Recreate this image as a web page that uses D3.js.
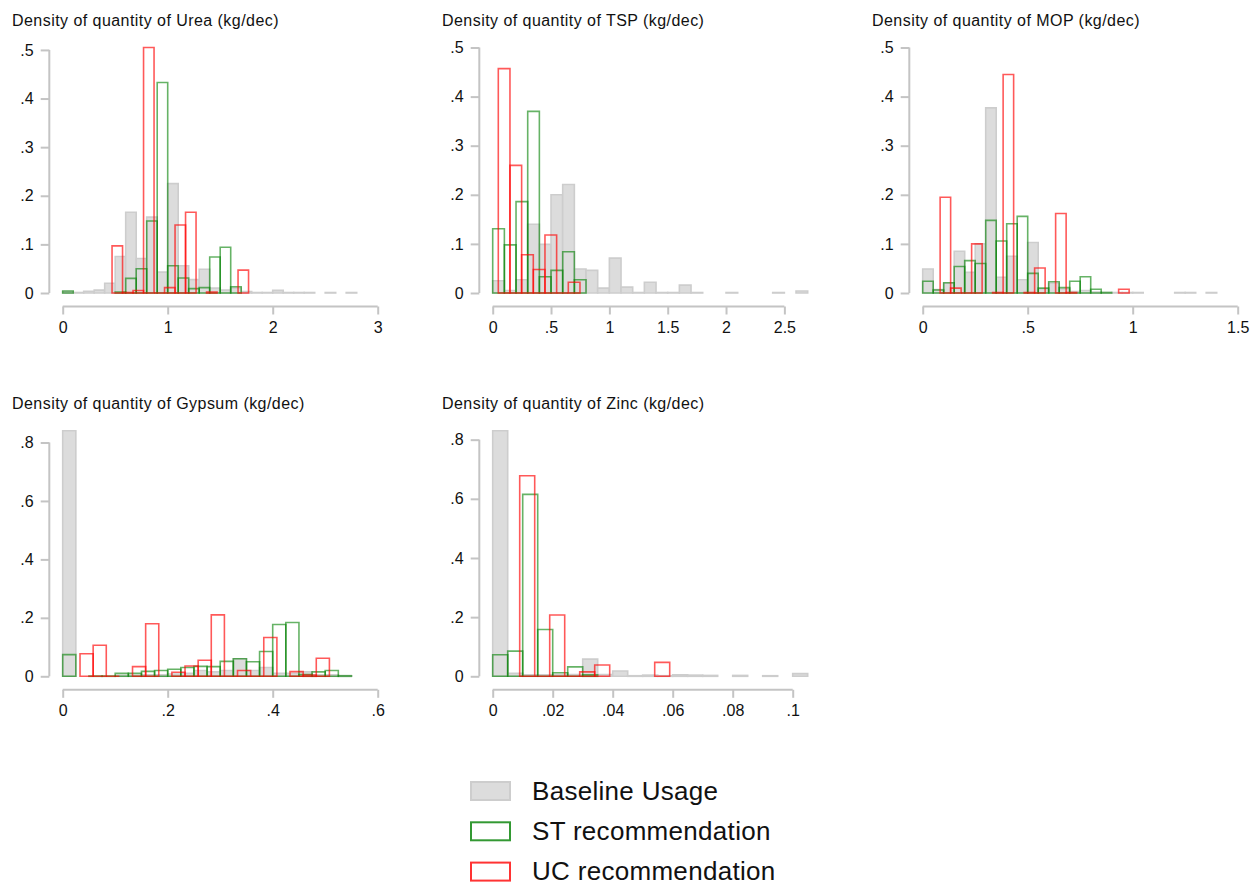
<!DOCTYPE html>
<html>
<head>
<meta charset="utf-8">
<script src="https://cdn.jsdelivr.net/npm/d3@7"></script>
<style>
  body { margin: 0; background: #fff; }
  text { font-family: "Liberation Sans", Arial, sans-serif; }
</style>
</head>
<body>
<div id="chart"></div>
<script>
// densities; null = no bar drawn, 0 = flat bar on the baseline
var titles = [
  "Density of quantity of Urea (kg/dec)",
  "Density of quantity of TSP (kg/dec)",
  "Density of quantity of MOP (kg/dec)",
  "Density of quantity of Gypsum (kg/dec)",
  "Density of quantity of Zinc (kg/dec)"
];
var seriesNames = ["Baseline Usage", "ST recommendation", "UC recommendation"];

// Urea: bins of 0.1
var ureaStart = [0, 0, 0.47];
var ureaWidth = 0.1;
var ureaBaseline = [0.003, 0.001, 0.0035, 0.006, 0.02, 0.075, 0.166, 0.071, 0.156, 0.043, 0.225, 0.056, 0.0275, 0.049, 0.01, 0.006, 0.01, 0.003, 0.001, 0.001, 0.0055, 0.001, 0.001, 0.001, null, 0.001, null, 0.001];
var ureaST = [0.004, null, null, null, null, 0.002, 0.03, 0.05, 0.148, 0.433, 0.056, 0.031, 0.009, 0.011, 0.074, 0.094, 0.013];
var ureaUC = [0.097, 0.001, 0.005, 0.505, 0, 0.011, 0.14, 0.166, null, 0.002, null, null, 0.047];

// TSP: bins of 0.1
var tspStart = [0, 0, 0.048];
var tspWidth = 0.1;
var tspBaseline = [0.025, 0.005, 0.027, 0.14, 0.099, 0.2, 0.221, 0.049, 0.046, 0.01, 0.071, 0.012, 0.001, 0.022, 0.001, 0.001, 0.016, 0.001, null, null, 0.001, null, null, null, 0.001, null, 0.004];
var tspST = [0.131, 0.098, 0.186, 0.37, 0.033, 0.046, 0.084, 0.027];
var tspUC = [0.457, 0.26, 0.078, 0.048, 0.118, 0, 0.022];

// MOP: bins of 0.05
var mopStart = [0, 0, 0.083];
var mopWidth = 0.05;
var mopBaseline = [0.049, 0.007, 0.02, 0.085, 0.042, 0.1, 0.377, 0.032, 0.075, 0.027, 0.103, 0.008, 0.02, 0.008, 0.003, 0.005, 0.002, 0.001, 0.001, 0.001, 0.001, null, null, null, 0.001, 0.001, null, 0.001];
var mopST = [0.024, 0.006, 0.021, 0.054, 0.066, 0.06, 0.148, 0.106, 0.141, 0.156, 0.04, 0.01, 0.023, 0.011, 0.024, 0.033, 0.0075, 0.001];
var mopUC = [0.195, 0.01, 0, 0.1, null, 0.001, 0.445, null, 0.001, 0.051, null, 0.162, 0.001, null, null, null, null, 0.0075];

// Gypsum: bins of 0.025
var gypsumStart = [0, 0, 0.033];
var gypsumWidth = 0.025;
var gypsumBaseline = [0.84, null, null, null, 0.003, 0.003, 0.005, 0.005, 0.008, 0.01, 0.02, 0.015, 0.02, 0.06, 0.02, 0.03, 0.01, 0.01, 0.015, 0.005, 0.005, 0.002];
var gypsumST = [0.074, null, 0.001, 0.001, 0.01, 0.01, 0.017, 0.02, 0.024, 0.03, 0.034, 0.033, 0.051, 0.06, 0.05, 0.085, 0.177, 0.184, 0.006, 0.015, 0.02, 0.002];
var gypsumUC = [0.077, 0.106, 0, null, 0.033, 0.18, null, 0.014, 0.035, 0.055, 0.21, 0, 0.02, 0, 0.133, null, 0.016, 0.004, 0.062];

// Zinc: bins of 0.005
var zincStart = [0, 0, 0.009];
var zincWidth = 0.005;
var zincBaseline = [0.83, 0.01, 0.005, 0.005, 0.006, 0.006, 0.058, 0.006, 0.018, 0.002, 0.004, 0.002, 0.005, 0.004, 0.003, null, 0.003, null, 0.002, null, 0.009];
var zincST = [0.073, 0.085, 0.615, 0.158, 0.012, 0.032, 0.005];
var zincUC = [0.678, 0, 0.207, 0, 0.015, 0.038, null, null, null, 0.047];

// axis ticks
var xTicks = [
  [0, 1, 2, 3],
  [0, 0.5, 1, 1.5, 2, 2.5],
  [0, 0.5, 1, 1.5],
  [0, 0.2, 0.4, 0.6],
  [0, 0.02, 0.04, 0.06, 0.08, 0.1]
];
var yTicks = [
  [0, 0.1, 0.2, 0.3, 0.4, 0.5],
  [0, 0.1, 0.2, 0.3, 0.4, 0.5],
  [0, 0.1, 0.2, 0.3, 0.4, 0.5],
  [0, 0.2, 0.4, 0.6, 0.8],
  [0, 0.2, 0.4, 0.6, 0.8]
];

var panels = [
  { series: [ureaBaseline, ureaST, ureaUC], starts: ureaStart, width: ureaWidth },
  { series: [tspBaseline, tspST, tspUC], starts: tspStart, width: tspWidth },
  { series: [mopBaseline, mopST, mopUC], starts: mopStart, width: mopWidth },
  { series: [gypsumBaseline, gypsumST, gypsumUC], starts: gypsumStart, width: gypsumWidth },
  { series: [zincBaseline, zincST, zincUC], starts: zincStart, width: zincWidth }
];

var W = 1251, H = 886;
var plotW = 315, plotH = 245.5;
var axisGrey = "#c4c4c4";
var styles = [
  { fill: "#dcdcdc", stroke: "#cdcdcd", opacity: 1 },
  { fill: "none", stroke: "#008000", opacity: 0.6 },
  { fill: "none", stroke: "#ff0000", opacity: 0.65 }
];

function fmt(v) {
  return String(v).replace(/^0\./, ".");
}

var svg = d3.select("#chart").append("svg")
  .attr("width", W)
  .attr("height", H);

panels.forEach(function (p, k) {
  var col = k % 3, row = Math.floor(k / 3);
  var left = 62.7 + col * 430;
  var top = 47.5 + row * 383.3;

  var maxEdge = d3.max(p.series, function (s, j) {
    return p.starts[j] + s.length * p.width;
  });
  var maxVal = d3.max(p.series, function (s) { return d3.max(s); });
  var xt = xTicks[k], yt = yTicks[k];

  var x = d3.scaleLinear()
    .domain([0, Math.max(xt[xt.length - 1], maxEdge)])
    .range([0, plotW]);
  var y = d3.scaleLinear()
    .domain([0, Math.max(yt[yt.length - 1], maxVal)])
    .range([plotH, 0]);

  var g = svg.append("g").attr("transform", "translate(" + left + "," + top + ")");

  g.append("text")
    .attr("x", -50.7)
    .attr("y", -21.5)
    .attr("font-size", "16px")
    .attr("letter-spacing", "0.45px")
    .attr("fill", "#111")
    .text(titles[k]);

  // bars
  p.series.forEach(function (s, j) {
    var bins = s.map(function (v, i) {
      return { x0: p.starts[j] + i * p.width, x1: p.starts[j] + (i + 1) * p.width, v: v };
    }).filter(function (d) { return d.v !== null; });

    g.append("g").selectAll("path")
      .data(bins)
      .enter()
      .append("path")
      .attr("d", function (d) {
        return "M" + x(d.x0) + "," + y(0) + "V" + y(d.v) + "H" + x(d.x1) + "V" + y(0) + "Z";
      })
      .attr("fill", styles[j].fill)
      .attr("stroke", styles[j].stroke)
      .attr("stroke-opacity", styles[j].opacity)
      .attr("stroke-width", 1.6);
  });

  // y axis
  var yAxis = d3.axisLeft(y)
    .tickValues(yt)
    .tickFormat(fmt)
    .tickSize(8.6)
    .tickPadding(7);
  var ya = g.append("g")
    .attr("transform", "translate(-13.4,0)")
    .call(yAxis);
  ya.select(".domain").remove();
  ya.append("line")
    .attr("y1", y(0))
    .attr("y2", y(yt[yt.length - 1]))
    .attr("stroke", axisGrey)
    .attr("stroke-width", 2);

  // x axis
  var xAxis = d3.axisBottom(x)
    .tickValues(xt)
    .tickFormat(fmt)
    .tickSize(8)
    .tickPadding(7);
  var xa = g.append("g")
    .attr("transform", "translate(0," + (plotH + 13.5) + ")")
    .call(xAxis);
  xa.select(".domain").remove();
  xa.append("line")
    .attr("x1", x(0))
    .attr("x2", x(xt[xt.length - 1]))
    .attr("stroke", axisGrey)
    .attr("stroke-width", 2);

  [ya, xa].forEach(function (a) {
    a.selectAll(".tick line").attr("stroke", axisGrey).attr("stroke-width", 2);
    a.selectAll(".tick text")
      .attr("font-size", "16px")
      .attr("font-family", "Liberation Sans, Arial, sans-serif")
      .attr("fill", "#111");
  });
});

// legend
var legend = svg.append("g").attr("transform", "translate(470,781)");
seriesNames.forEach(function (name, j) {
  var row = legend.append("g").attr("transform", "translate(0," + j * 40.3 + ")");
  row.append("rect")
    .attr("x", 1)
    .attr("y", 1)
    .attr("width", 39)
    .attr("height", 18)
    .attr("fill", j === 0 ? "#dcdcdc" : "none")
    .attr("stroke", styles[j].stroke)
    .attr("stroke-opacity", j === 0 ? 1 : 0.8)
    .attr("stroke-width", 2);
  row.append("text")
    .attr("x", 62)
    .attr("y", 18.5)
    .attr("font-size", "26px")
    .attr("letter-spacing", "0.3px")
    .attr("fill", "#111")
    .text(name);
});
</script>
</body>
</html>
